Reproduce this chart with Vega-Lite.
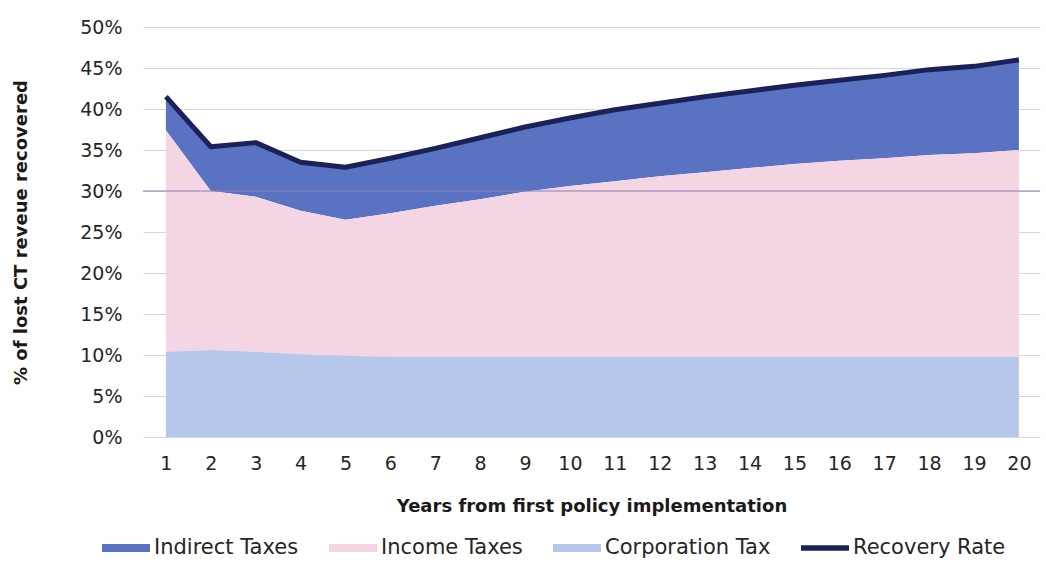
{
  "$schema": "https://vega.github.io/schema/vega-lite/v6.json",
  "width": 897,
  "height": 410,
  "autosize": "none",
  "padding": {"left": 143, "top": 27, "right": 6, "bottom": 125},
  "background": "white",
  "config": {"font": "DejaVu Sans", "view": {"stroke": null}},
  "data": {
    "values": [
      {"year": 1, "Corporation Tax": 0.104, "Income Taxes": 0.270, "Indirect Taxes": 0.041, "Recovery Rate": 0.415},
      {"year": 2, "Corporation Tax": 0.106, "Income Taxes": 0.194, "Indirect Taxes": 0.054, "Recovery Rate": 0.354},
      {"year": 3, "Corporation Tax": 0.104, "Income Taxes": 0.189, "Indirect Taxes": 0.066, "Recovery Rate": 0.359},
      {"year": 4, "Corporation Tax": 0.101, "Income Taxes": 0.175, "Indirect Taxes": 0.059, "Recovery Rate": 0.335},
      {"year": 5, "Corporation Tax": 0.099, "Income Taxes": 0.166, "Indirect Taxes": 0.064, "Recovery Rate": 0.329},
      {"year": 6, "Corporation Tax": 0.098, "Income Taxes": 0.175, "Indirect Taxes": 0.067, "Recovery Rate": 0.340},
      {"year": 7, "Corporation Tax": 0.098, "Income Taxes": 0.184, "Indirect Taxes": 0.070, "Recovery Rate": 0.352},
      {"year": 8, "Corporation Tax": 0.098, "Income Taxes": 0.192, "Indirect Taxes": 0.075, "Recovery Rate": 0.365},
      {"year": 9, "Corporation Tax": 0.098, "Income Taxes": 0.201, "Indirect Taxes": 0.079, "Recovery Rate": 0.378},
      {"year": 10, "Corporation Tax": 0.098, "Income Taxes": 0.208, "Indirect Taxes": 0.083, "Recovery Rate": 0.389},
      {"year": 11, "Corporation Tax": 0.098, "Income Taxes": 0.214, "Indirect Taxes": 0.087, "Recovery Rate": 0.399},
      {"year": 12, "Corporation Tax": 0.098, "Income Taxes": 0.220, "Indirect Taxes": 0.089, "Recovery Rate": 0.407},
      {"year": 13, "Corporation Tax": 0.098, "Income Taxes": 0.225, "Indirect Taxes": 0.092, "Recovery Rate": 0.415},
      {"year": 14, "Corporation Tax": 0.098, "Income Taxes": 0.230, "Indirect Taxes": 0.094, "Recovery Rate": 0.422},
      {"year": 15, "Corporation Tax": 0.098, "Income Taxes": 0.235, "Indirect Taxes": 0.096, "Recovery Rate": 0.429},
      {"year": 16, "Corporation Tax": 0.098, "Income Taxes": 0.239, "Indirect Taxes": 0.098, "Recovery Rate": 0.435},
      {"year": 17, "Corporation Tax": 0.098, "Income Taxes": 0.242, "Indirect Taxes": 0.101, "Recovery Rate": 0.441},
      {"year": 18, "Corporation Tax": 0.098, "Income Taxes": 0.246, "Indirect Taxes": 0.104, "Recovery Rate": 0.448},
      {"year": 19, "Corporation Tax": 0.098, "Income Taxes": 0.248, "Indirect Taxes": 0.106, "Recovery Rate": 0.452},
      {"year": 20, "Corporation Tax": 0.098, "Income Taxes": 0.252, "Indirect Taxes": 0.110, "Recovery Rate": 0.460}
    ]
  },
  "transform": [
    {"fold": ["Indirect Taxes", "Income Taxes", "Corporation Tax", "Recovery Rate"], "as": ["series", "value"]}
  ],
  "layer": [
    {
      "transform": [{"filter": "datum.series !== 'Recovery Rate'"}],
      "mark": {"type": "area", "interpolate": "linear"},
      "encoding": {
        "x": {
          "field": "year", "type": "quantitative",
          "scale": {"domain": [0.49, 20.47], "nice": false, "zero": false},
          "axis": {
            "values": [1,2,3,4,5,6,7,8,9,10,11,12,13,14,15,16,17,18,19,20],
            "title": "Years from first policy implementation",
            "titleFontSize": 18, "titleFontWeight": "bold", "titleColor": "#1a1a1a", "titlePadding": 24,
            "labelFontSize": 19, "labelColor": "#262626", "labelPadding": 17,
            "ticks": false, "domain": false, "grid": false
          }
        },
        "y": {
          "field": "value", "type": "quantitative", "stack": "zero",
          "scale": {"domain": [0, 0.5], "nice": false},
          "axis": {
            "values": [0,0.05,0.1,0.15,0.2,0.25,0.3,0.35,0.4,0.45,0.5],
            "format": ".0%",
            "title": "% of lost CT reveue recovered",
            "titleFontSize": 18, "titleFontWeight": "bold", "titleColor": "#1a1a1a", "titlePadding": 49,
            "labelFontSize": 19, "labelColor": "#262626", "labelPadding": 21,
            "ticks": false, "domain": false, "grid": true, "gridColor": "#d6d6d6", "gridWidth": 1
          }
        },
        "color": {
          "field": "series", "type": "nominal",
          "scale": {
            "domain": ["Indirect Taxes", "Income Taxes", "Corporation Tax", "Recovery Rate"],
            "range": ["#5a72c2", "#f4d5e4", "#b7c6eb", "#1b2159"]
          },
          "legend": {
            "orient": "none", "legendX": -41, "legendY": 497,
            "direction": "horizontal", "columns": 4, "title": null,
            "symbolType": "M-1,-0.17H1V0.17H-1Z", "symbolSize": 2304, "symbolStrokeWidth": 0, "symbolOpacity": 1,
            "labelFontSize": 21, "labelColor": "#262626", "labelOffset": 4, "labelLimit": 400, "columnPadding": 30,
            "encode": {
              "symbols": {"update": {"shape": {"signal": "datum.label === 'Recovery Rate' ? 'M-1,-0.11H1V0.11H-1Z' : 'M-1,-0.17H1V0.17H-1Z'"}}}
            }
          }
        },
        "order": {"field": "series", "sort": "ascending"}
      }
    },
    {
      "data": {"values": [{}]},
      "mark": {"type": "rule", "color": "#8d82b5", "strokeWidth": 1.5, "opacity": 0.7},
      "encoding": {"y": {"datum": 0.3}}
    },
    {
      "transform": [{"filter": "datum.series === 'Recovery Rate'"}],
      "mark": {"type": "line", "strokeWidth": 5, "strokeJoin": "round"},
      "encoding": {
        "x": {"field": "year", "type": "quantitative"},
        "y": {"field": "value", "type": "quantitative"},
        "color": {"field": "series", "type": "nominal", "legend": null}
      }
    }
  ]
}
